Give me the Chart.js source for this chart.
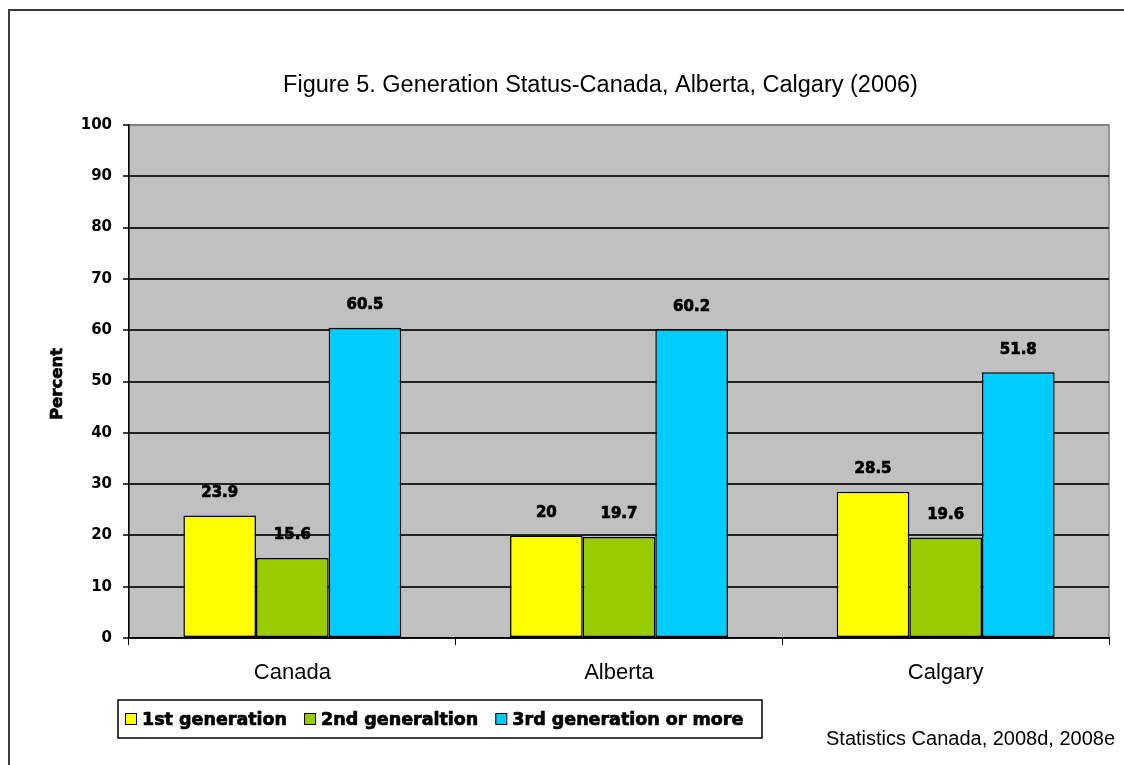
<!DOCTYPE html>
<html>
<head>
<meta charset="utf-8">
<script src="https://cdn.jsdelivr.net/npm/chart.js@4/dist/chart.umd.min.js"></script>
<style>
  html, body { margin: 0; padding: 0; background: #ffffff; }
  canvas { display: block; }
</style>
</head>
<body>
<canvas id="chart" width="1124" height="765"></canvas>
<script>
// ---- data ----
const categories = ['Canada', 'Alberta', 'Calgary'];
const firstGeneration = [23.9, 20, 28.5];
const secondGeneration = [15.6, 19.7, 19.6];
const thirdGenerationOrMore = [60.5, 60.2, 51.8];
const seriesLabels = ['1st generation', '2nd generaltion', '3rd generation or more'];
const yAxisMin = 0;
const yAxisMax = 100;
const yAxisStep = 10;
const chartTitle = 'Figure 5. Generation Status-Canada, Alberta, Calgary (2006)';
const yAxisTitle = 'Percent';
const sourceNote = 'Statistics Canada, 2008d, 2008e';

// ---- styling ----
const seriesColors = ['#FFFF00', '#99CC00', '#00CCFF'];
const BOLD = '"DejaVu Sans", Verdana, sans-serif';
const REGULAR = '"Liberation Sans", Arial, sans-serif';

// heavy text: fill plus a thin outline in the same colour
function heavyText(ctx, text, x, y) {
  ctx.fillText(text, x, y);
  ctx.lineWidth = 0.7;
  ctx.strokeStyle = ctx.fillStyle;
  ctx.strokeText(text, x, y);
}

// Frame, plot background, titles, legend box and value labels
const decorations = {
  id: 'decorations',
  beforeDraw(chart) {
    const { ctx, chartArea: a } = chart;
    ctx.save();
    ctx.fillStyle = '#ffffff';
    ctx.fillRect(0, 0, chart.width, chart.height);

    // outer frame (left and top edges)
    ctx.strokeStyle = '#3a3a3a';
    ctx.lineWidth = 2;
    ctx.beginPath();
    ctx.moveTo(9, chart.height);
    ctx.lineTo(9, 10);
    ctx.lineTo(chart.width, 10);
    ctx.stroke();

    // plot area
    ctx.fillStyle = '#C0C0C0';
    ctx.fillRect(a.left, a.top, a.right - a.left, a.bottom - a.top);
    ctx.strokeStyle = '#808080';
    ctx.lineWidth = 1.5;
    ctx.strokeRect(a.left, a.top, a.right - a.left, a.bottom - a.top);

    // title
    ctx.fillStyle = '#000000';
    ctx.font = '23.5px ' + REGULAR;
    ctx.textAlign = 'center';
    ctx.textBaseline = 'alphabetic';
    ctx.fillText(chartTitle, 600.5, 92);

    // y-axis title
    ctx.save();
    ctx.translate(58, 384);
    ctx.rotate(-Math.PI / 2);
    ctx.font = 'bold 16.5px ' + BOLD;
    ctx.textAlign = 'center';
    ctx.textBaseline = 'middle';
    heavyText(ctx, yAxisTitle, 0, 0);
    ctx.restore();

    // source note
    ctx.font = '20px ' + REGULAR;
    ctx.textAlign = 'left';
    ctx.fillText(sourceNote, 826, 745);

    // legend
    const boxX = 118, boxY = 700, boxW = 644, boxH = 38;
    ctx.fillStyle = '#ffffff';
    ctx.fillRect(boxX, boxY, boxW, boxH);
    ctx.strokeStyle = '#000000';
    ctx.lineWidth = 1.5;
    ctx.strokeRect(boxX, boxY, boxW, boxH);
    ctx.font = 'bold 17.5px ' + BOLD;
    ctx.textBaseline = 'alphabetic';
    let x = 125;
    chart.data.datasets.forEach((ds) => {
      ctx.fillStyle = ds.backgroundColor;
      ctx.fillRect(x, 713, 11, 11);
      ctx.strokeStyle = '#000000';
      ctx.lineWidth = 1;
      ctx.strokeRect(x + 0.5, 713.5, 11, 11);
      ctx.fillStyle = '#000000';
      heavyText(ctx, ds.label, x + 17, 725);
      x += 17 + ctx.measureText(ds.label).width + 17;
    });
    ctx.restore();
  },
  afterDatasetsDraw(chart) {
    const { ctx } = chart;
    ctx.save();
    ctx.font = 'bold 15px ' + BOLD;
    ctx.fillStyle = '#000000';
    ctx.textAlign = 'center';
    ctx.textBaseline = 'alphabetic';
    chart.data.datasets.forEach((ds, i) => {
      chart.getDatasetMeta(i).data.forEach((bar, j) => {
        heavyText(ctx, String(ds.data[j]), bar.x, bar.y - 18.5);
      });
    });
    ctx.restore();
  }
};

const seriesData = [firstGeneration, secondGeneration, thirdGenerationOrMore];

new Chart(document.getElementById('chart'), {
  type: 'bar',
  data: {
    labels: categories,
    datasets: seriesData.map((values, i) => ({
      label: seriesLabels[i],
      data: values,
      backgroundColor: seriesColors[i],
      borderColor: '#000000',
      borderWidth: 1.5,
      borderSkipped: false,
      categoryPercentage: 0.667,
      barPercentage: 1.0
    }))
  },
  options: {
    responsive: false,
    animation: false,
    devicePixelRatio: 1,
    layout: { padding: { left: 0, right: 15, top: 125, bottom: 67 } },
    plugins: {
      legend: { display: false },
      title: { display: false },
      tooltip: { enabled: false }
    },
    scales: {
      x: {
        offset: true,
        afterFit(scale) { scale.height = 60; },
        grid: {
          offset: true,
          drawOnChartArea: false,
          drawTicks: true,
          tickLength: 7,
          color: '#000000',
          lineWidth: 1
        },
        border: { display: true, color: '#000000', width: 1.5 },
        ticks: {
          color: '#000000',
          padding: 15,
          font: { family: REGULAR, size: 22 }
        }
      },
      y: {
        min: yAxisMin,
        max: yAxisMax,
        afterFit(scale) { scale.width = 129; },
        ticks: {
          stepSize: yAxisStep,
          color: '#000000',
          padding: 11,
          font: { family: BOLD, size: 15, weight: 'bold' }
        },
        grid: {
          drawTicks: true,
          tickLength: 6,
          lineWidth: 2,
          color: (c) => (c.tick && c.tick.value === yAxisMax ? '#808080' : '#222222'),
          tickColor: '#000000',
          tickWidth: 1.5
        },
        border: { display: true, color: '#000000', width: 1.5 }
      }
    }
  },
  plugins: [decorations]
});
</script>
</body>
</html>
